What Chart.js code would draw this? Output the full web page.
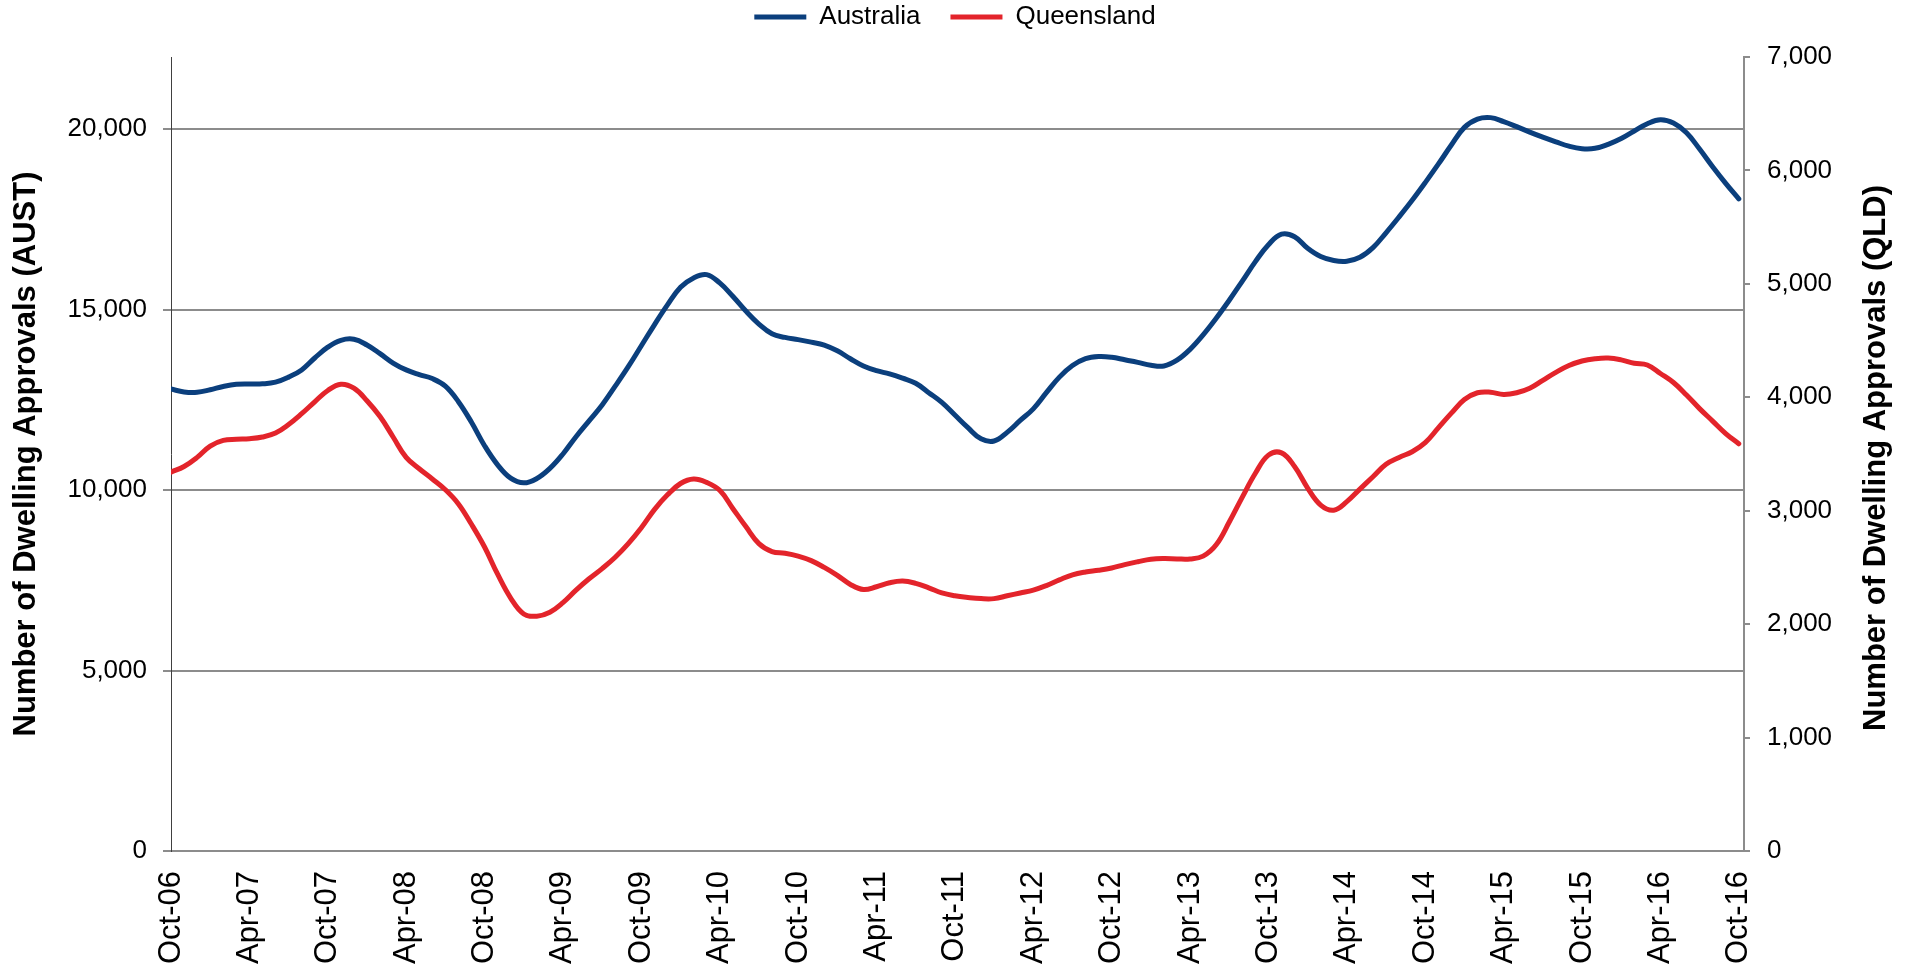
<!DOCTYPE html>
<html>
<head>
<meta charset="utf-8">
<title>Dwelling Approvals</title>
<script src="https://cdn.jsdelivr.net/npm/chart.js@4.4.1/dist/chart.umd.min.js"></script>
<style>
    html, body { margin: 0; padding: 0; background: #fff; }
    #wrap { width: 1910px; height: 970px; }
</style>
</head>
<body>
<div id="wrap"><canvas id="chart" width="1910" height="970"></canvas></div>
<script>
// ── Data (monthly, Oct-06 … Oct-16) ──────────────────────────────────────────

const xTickLabels = [
    'Oct-06', 'Apr-07', 'Oct-07', 'Apr-08', 'Oct-08', 'Apr-09', 'Oct-09',
    'Apr-10', 'Oct-10', 'Apr-11', 'Oct-11', 'Apr-12', 'Oct-12', 'Apr-13',
    'Oct-13', 'Apr-14', 'Oct-14', 'Apr-15', 'Oct-15', 'Apr-16', 'Oct-16'
];

const australia = [
    12800, 12720, 12710, 12780, 12870, 12930, 12940, 12945, 12990, 13130, 13330, 13660,
    13960, 14150, 14180, 14020, 13780, 13520, 13330, 13200, 13090, 12880, 12450, 11880,
    11230, 10700, 10330, 10200, 10320, 10600, 11000, 11480, 11920, 12360, 12880, 13420,
    14000, 14580, 15130, 15620, 15880, 15970, 15740, 15370, 14960, 14600, 14330, 14230,
    14170, 14100, 14020, 13860, 13640, 13440, 13310, 13220, 13100, 12960, 12700, 12430,
    12080, 11730, 11420, 11360, 11600, 11930, 12250, 12700, 13130, 13450, 13640, 13700,
    13680, 13610, 13540, 13460, 13440, 13600, 13900, 14300, 14760, 15260, 15790, 16330,
    16800, 17090, 17020, 16700, 16470, 16360, 16340, 16450, 16720, 17130, 17570, 18030,
    18520, 19030, 19560, 20050, 20280, 20320, 20210, 20070, 19920, 19780, 19650, 19530,
    19460, 19470, 19580, 19740, 19950, 20150, 20260, 20170, 19900, 19450, 18960, 18500,
    18070
];

const queensland = [
    3340, 3390, 3470, 3570, 3620, 3630, 3635, 3650, 3685, 3760, 3855, 3960,
    4060, 4115, 4080, 3970, 3830, 3650, 3470, 3370, 3280, 3185, 3060, 2880,
    2680, 2440, 2230, 2090, 2070, 2105, 2190, 2300, 2400, 2490, 2590, 2710,
    2850, 3010, 3140, 3240, 3280, 3250, 3180, 3020, 2860, 2710, 2640, 2625,
    2600, 2560, 2500, 2430, 2350, 2305, 2330, 2365, 2380, 2360, 2320, 2275,
    2250, 2235, 2225, 2225, 2250, 2275, 2300, 2340, 2390, 2435, 2460, 2475,
    2495, 2525, 2550, 2572, 2578, 2575, 2575, 2600, 2700, 2900, 3120, 3330,
    3490, 3510, 3390, 3200, 3050, 3005, 3080, 3190, 3300, 3410, 3470, 3520,
    3600, 3730, 3860, 3980, 4040, 4045, 4025, 4040, 4080, 4150, 4220, 4280,
    4320, 4340, 4346, 4330, 4300, 4285, 4210, 4130, 4020, 3900, 3790, 3680,
    3590
];

const austTicks = [0, 5000, 10000, 15000, 20000];
const qldTicks  = [0, 1000, 2000, 3000, 4000, 5000, 6000, 7000];

const austTitle = 'Number of Dwelling Approvals (AUST)';
const qldTitle  = 'Number of Dwelling Approvals (QLD)';

// ── Look ─────────────────────────────────────────────────────────────────────

const FONT   = '"Liberation Sans", Arial, sans-serif';
const BLUE   = '#0b3f7d';
const RED    = '#e3242b';
const GRID   = '#8c8c8c';

Chart.defaults.font.family = FONT;
Chart.defaults.color = '#000';

const fmt = v => Number(v).toLocaleString('en-US');

// legend gets a taller box so the plot starts where the reference does
const legendBox = {
    id: 'legendBox',
    beforeInit(chart) {
        const fit = chart.legend.fit;
        chart.legend.fit = function () {
            fit.bind(chart.legend)();
            this.height += 17;
        };
    }
};

// right title reads bottom-to-top like the left one
const rightTitle = {
    id: 'rightTitle',
    afterDraw(chart) {
        const { ctx } = chart;
        const s = chart.scales.y1;
        ctx.save();
        ctx.translate(s.right - 34, (s.top + s.bottom) / 2 + 4);
        ctx.rotate(-Math.PI / 2);
        ctx.font = `bold 31px ${FONT}`;
        ctx.fillStyle = '#000';
        ctx.textAlign = 'center';
        ctx.textBaseline = 'middle';
        ctx.fillText(qldTitle, 0, 0);
        ctx.restore();
    }
};

// ── Chart ────────────────────────────────────────────────────────────────────

new Chart(document.getElementById('chart').getContext('2d'), {
    type: 'line',
    data: {
        datasets: [
            {
                label: 'Australia',
                data: australia.map((v, i) => ({ x: i, y: v })),
                yAxisID: 'y',
                borderColor: BLUE,
                backgroundColor: BLUE,
                borderWidth: 5,
                borderCapStyle: 'round',
                pointRadius: 0,
                tension: 0.4
            },
            {
                label: 'Queensland',
                data: queensland.map((v, i) => ({ x: i, y: v })),
                yAxisID: 'y1',
                borderColor: RED,
                backgroundColor: RED,
                borderWidth: 5,
                borderCapStyle: 'round',
                pointRadius: 0,
                tension: 0.4
            }
        ]
    },
    options: {
        responsive: false,
        animation: false,
        devicePixelRatio: 1,
        layout: { padding: { top: -26, left: 0, right: 0, bottom: 0 } },
        plugins: {
            legend: {
                position: 'top',
                labels: {
                    usePointStyle: true,
                    pointStyle: 'line',
                    pointStyleWidth: 52,
                    padding: 30,
                    color: '#000',
                    font: { size: 26 }
                }
            },
            tooltip: { enabled: false }
        },
        scales: {
            x: {
                type: 'linear',
                min: 0,
                max: 120.4,
                afterBuildTicks: s => { s.ticks = xTickLabels.map((_, i) => ({ value: i * 6 })); },
                afterFit: s => { s.height = 119; },
                grid: { display: false, drawTicks: false },
                border: { color: GRID, width: 2 },
                ticks: {
                    autoSkip: false,
                    minRotation: 90,
                    maxRotation: 90,
                    padding: 20,
                    color: '#000',
                    font: { size: 31 },
                    callback: (v, i) => xTickLabels[i]
                }
            },
            y: {
                position: 'left',
                min: 0,
                max: 22000,
                afterBuildTicks: s => { s.ticks = austTicks.map(v => ({ value: v })); },
                afterFit: s => { s.width = 171; },
                grid: { color: GRID, lineWidth: 2, tickLength: 8 },
                border: { color: '#404040', width: 1 },
                ticks: { padding: 16, color: '#000', font: { size: 26 }, callback: fmt },
                title: {
                    display: true,
                    text: austTitle,
                    color: '#000',
                    font: { size: 31, weight: 'bold' },
                    padding: { top: 8, bottom: 0 }
                }
            },
            y1: {
                position: 'right',
                min: 0,
                max: 7000,
                afterBuildTicks: s => { s.ticks = qldTicks.map(v => ({ value: v })); },
                afterFit: s => { s.width = 166; },
                grid: { drawOnChartArea: false, color: GRID, lineWidth: 2, tickLength: 6 },
                border: { color: GRID, width: 2 },
                ticks: { padding: 17, color: '#000', font: { size: 26 }, callback: fmt }
            }
        }
    },
    plugins: [legendBox, rightTitle]
});
</script>
</body>
</html>
